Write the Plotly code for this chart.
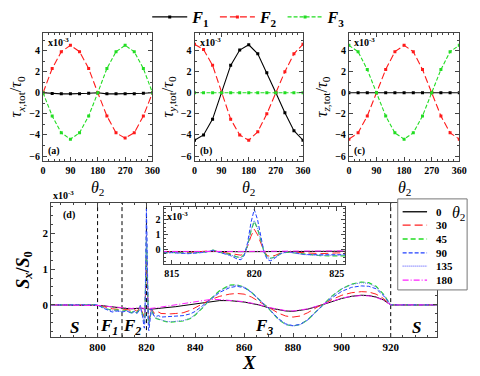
import plotly.graph_objects as go

# ---------------- data ----------------
theta = [0, 30, 60, 90, 120, 150, 180, 210, 240, 270, 300, 330, 360]

a_F1 = [0, -0.08, -0.1, -0.1, -0.1, -0.05, 0, -0.1, -0.1, -0.1, -0.1, -0.05, 0]
a_F2 = [0, 2.3, 3.9, 4.5, 3.9, 2.3, 0, -2.2, -3.8, -4.3, -3.8, -2.2, 0]
a_F3 = [0, -2.2, -3.8, -4.4, -3.8, -2.2, 0, 2.3, 3.9, 4.5, 3.9, 2.3, 0]

b_F1 = [-4.5, -4.0, -2.5, 0, 2.6, 4.05, 4.55, 3.7, 1.9, 0, -1.9, -3.6, -4.5]
b_F2 = [4.6, 4.1, 2.6, 0, -2.5, -4.0, -4.5, -3.7, -2.0, 0, 2.0, 3.7, 4.6]
b_F3 = [0, 0, 0, 0, 0, 0, 0, 0, 0, 0, 0, 0, 0]

c_F1 = [0, 0, 0, 0, 0, 0, 0, 0, 0, 0, 0, 0, 0]
c_F2 = [-4.4, -3.8, -2.2, 0, 2.2, 3.9, 4.5, 3.9, 2.2, 0, -2.2, -3.8, -4.4]
c_F3 = [4.5, 3.9, 2.2, 0, -2.2, -3.8, -4.4, -3.8, -2.2, 0, 2.2, 3.9, 4.5]

theta_ticks = [0, 90, 180, 270, 360]

X = [781, 800, 802, 804, 806,
     808, 810, 812, 814, 815,
     816, 817, 817.5, 818, 818.5,
     819, 819.2, 819.4, 819.6, 819.8,
     820, 820.2, 820.4, 820.6, 820.8,
     821, 821.3, 821.6, 822, 822.5,
     823, 824, 825, 826, 828,
     830, 832, 835, 838, 840,
     843, 846, 850, 854, 857,
     860, 863, 866, 870, 874,
     877, 880, 883, 886, 890,
     893, 896, 900, 904, 908,
     911, 914, 917, 920, 939]

S_0 = [0, 0, -0.02, -0.04, -0.06,
       -0.08, -0.1, -0.1, -0.11, -0.1,
       -0.11, -0.1, -0.09, -0.1, -0.11,
       -0.12, -0.12, -0.11, -0.1, -0.09,
       -0.08, -0.09, -0.1, -0.11, -0.12,
       -0.12, -0.12, -0.12, -0.12, -0.12,
       -0.11, -0.1, -0.1, -0.09, -0.08,
       -0.07, -0.05, -0.02, 0.01, 0.03,
       0.07, 0.1, 0.12, 0.12, 0.11,
       0.08, 0.04, 0.0, -0.08, -0.14,
       -0.17, -0.18, -0.16, -0.12, -0.04,
       0.03, 0.1, 0.18, 0.24, 0.27,
       0.26, 0.22, 0.14, 0, 0]

S_30 = [0, 0, -0.04, -0.08, -0.11,
        -0.12, -0.14, -0.13, -0.16, -0.13,
        -0.17, -0.12, -0.05, -0.15, -0.22,
        -0.33, -0.35, -0.2, 0.25, 0.9,
        1.37, 1.0, 0.4, -0.1, -0.38,
        -0.44, -0.35, -0.2, -0.12, -0.15,
        -0.22, -0.25, -0.2, -0.24, -0.25,
        -0.25, -0.24, -0.22, -0.15, -0.08,
        0.03, 0.14, 0.24, 0.3, 0.32,
        0.3, 0.22, 0.1, -0.08, -0.23,
        -0.31, -0.34, -0.31, -0.22, -0.06,
        0.05, 0.15, 0.27, 0.34, 0.37,
        0.36, 0.3, 0.18, 0, 0]

S_45 = [0, 0, -0.06, -0.12, -0.15,
        -0.14, -0.18, -0.15, -0.22, -0.16,
        -0.22, -0.14, -0.02, -0.18, -0.3,
        -0.48, -0.5, -0.3, 0.3, 1.25,
        1.9, 1.4, 0.55, -0.15, -0.5,
        -0.55, -0.45, -0.25, -0.15, -0.2,
        -0.3, -0.38, -0.4, -0.44, -0.47,
        -0.48, -0.47, -0.45, -0.38, -0.28,
        -0.08, 0.15, 0.4, 0.55, 0.56,
        0.5, 0.35, 0.15, -0.1, -0.4,
        -0.55, -0.59, -0.55, -0.42, -0.15,
        0.05, 0.25, 0.45, 0.58, 0.64,
        0.62, 0.52, 0.3, 0, 0]

S_90 = [0, 0, -0.08, -0.15, -0.2,
        -0.17, -0.2, -0.17, -0.24, -0.18,
        -0.25, -0.16, -0.02, -0.2, -0.35,
        -0.62, -0.65, -0.35, 0.5, 1.8,
        2.68, 2.0, 0.8, -0.2, -0.65,
        -0.72, -0.5, -0.25, -0.1, -0.2,
        -0.3, -0.32, -0.3, -0.34, -0.33,
        -0.34, -0.33, -0.3, -0.25, -0.18,
        -0.02, 0.14, 0.35, 0.48, 0.52,
        0.48, 0.35, 0.15, -0.1, -0.38,
        -0.53, -0.58, -0.54, -0.42, -0.15,
        0.04, 0.2, 0.38, 0.49, 0.53,
        0.52, 0.45, 0.26, 0, 0]

S_135 = [0, 0, -0.07, -0.13, -0.17,
         -0.15, -0.19, -0.16, -0.23, -0.17,
         -0.23, -0.15, -0.02, -0.19, -0.32,
         -0.5, -0.52, -0.3, 0.32, 1.3,
         1.95, 1.45, 0.58, -0.15, -0.52,
         -0.57, -0.46, -0.25, -0.14, -0.2,
         -0.31, -0.37, -0.39, -0.43, -0.46,
         -0.47, -0.46, -0.44, -0.37, -0.27,
         -0.07, 0.14, 0.38, 0.53, 0.55,
         0.5, 0.36, 0.16, -0.1, -0.4,
         -0.55, -0.59, -0.55, -0.42, -0.15,
         0.05, 0.25, 0.45, 0.57, 0.62,
         0.6, 0.5, 0.29, 0, 0]

S_180 = [0, 0, -0.02, -0.04, -0.05,
         -0.07, -0.09, -0.09, -0.1, -0.09,
         -0.1, -0.09, -0.08, -0.09, -0.1,
         -0.1, -0.1, -0.1, -0.09, -0.08,
         -0.07, -0.08, -0.09, -0.1, -0.1,
         -0.1, -0.1, -0.1, -0.1, -0.1,
         -0.09, -0.08, -0.07, -0.06, -0.04,
         -0.02, 0.0, 0.04, 0.07, 0.09,
         0.12, 0.15, 0.15, 0.13, 0.12,
         0.09, 0.05, 0.01, -0.07, -0.13,
         -0.16, -0.17, -0.15, -0.11, -0.03,
         0.04, 0.11, 0.19, 0.24, 0.26,
         0.25, 0.21, 0.13, 0, 0]

theta2_labels = ["0", "30", "45", "90", "135", "180"]
region_lines = [800, 810, 820, 920]
region_labels = ["S", "F<sub>1</sub>", "F<sub>2</sub>", "F<sub>3</sub>", "S"]
region_label_x = [790.5, 804.7, 814.2, 868, 930.5]

# ---------------- styling ----------------
W, H = 480, 376
SERIF = "Liberation Serif"
FRAME = "#444444"


def px(v):
    return v / W


def py(v):
    return 1 - v / H


fig = go.Figure()

top_sets = [(a_F1, a_F2, a_F3), (b_F1, b_F2, b_F3), (c_F1, c_F2, c_F3)]
top_styles = [("<b><i>F</i><sub>1</sub></b>", "black", "solid"),
              ("<b><i>F</i><sub>2</sub></b>", "#ff1a1a", "7px,3px"),
              ("<b><i>F</i><sub>3</sub></b>", "#22dd22", "4px,2px")]
for k, vals in enumerate(top_sets):
    xa = "x" if k == 0 else "x%d" % (k + 1)
    ya = "y" if k == 0 else "y%d" % (k + 1)
    for (name, color, dash), v in zip(top_styles, vals):
        fig.add_trace(go.Scatter(
            x=theta, y=v, mode="lines+markers", name=name,
            line=dict(color=color, width=1.1, dash=dash),
            marker=dict(size=3, color=color, symbol="square"),
            xaxis=xa, yaxis=ya, showlegend=(k == 0), legendgroup=name))

d_series = [S_0, S_30, S_45, S_90, S_135, S_180]
d_styles = [("black", "solid", 1.0),
            ("#ff2020", "8px,4px", 1.0),
            ("#22dd22", "5px,3px", 1.2),
            ("#2040ff", "4px,2px", 1.0),
            ("#6a6aff", "1px,1px", 1.0),
            ("#ff20ff", "6px,2px,1px,2px", 1.0)]
for xa, ya in (("x4", "y4"), ("x5", "y5")):
    for s, (c, dsh, w) in zip(d_series, d_styles):
        fig.add_trace(go.Scatter(x=X, y=s, mode="lines", showlegend=False,
                                 line=dict(color=c, dash=dsh, width=w),
                                 xaxis=xa, yaxis=ya))


def axis_common(size=10):
    return dict(showline=True, linecolor=FRAME, linewidth=1, mirror="allticks",
                ticks="inside", ticklen=4, tickcolor=FRAME, showgrid=False,
                zeroline=False,
                tickfont=dict(family=SERIF, size=size, color="black", weight="bold"))


top_x_dom = [(41, 153), (196, 307), (354, 467)]
ytitles = ["<i>τ</i><sub><i>x</i>,tot</sub>/<i>τ</i><sub>0</sub>",
           "<i>τ</i><sub><i>y</i>,tot</sub>/<i>τ</i><sub>0</sub>",
           "<i>τ</i><sub><i>z</i>,tot</sub>/<i>τ</i><sub>0</sub>"]
layout = {}
annotations = []
shapes = []
for k, (x0, x1) in enumerate(top_x_dom):
    sx = "" if k == 0 else str(k + 1)
    layout["xaxis" + sx] = dict(
        axis_common(10), domain=[px(x0), px(x1)], range=[0, 360],
        tickvals=theta_ticks, anchor="y" + sx,
        minor=dict(ticks="inside", ticklen=2, tickcolor=FRAME, dtick=18, tick0=0))
    layout["yaxis" + sx] = dict(
        axis_common(10), domain=[py(159), py(29)], range=[-6.5, 5.7],
        tickvals=[-6, -4, -2, 0, 2, 4], anchor="x" + sx,
        minor=dict(ticks="inside", ticklen=2, tickcolor=FRAME, dtick=1, tick0=0),
        title=dict(text=ytitles[k], standoff=3,
                   font=dict(family=SERIF, size=16, color="black")))
    annotations.append(dict(text="<i>θ</i><sub>2</sub>", xref="x%s domain" % sx,
                            yref="paper", x=0.5, y=py(186), xanchor="center",
                            yanchor="middle", showarrow=False,
                            font=dict(family=SERIF, size=16, color="black")))

layout["xaxis4"] = dict(
    axis_common(11), domain=[px(49.3), px(444.3)], range=[781, 939],
    tickvals=[800, 820, 840, 860, 880, 900, 920], anchor="y4",
    minor=dict(ticks="inside", ticklen=2, tickcolor=FRAME, dtick=5, tick0=800))
layout["yaxis4"] = dict(
    axis_common(11), domain=[py(336.7), py(201)], range=[-0.9, 2.85],
    tickvals=[0, 1, 2], anchor="x4",
    minor=dict(ticks="inside", ticklen=2, tickcolor=FRAME, dtick=0.25, tick0=0),
    title=dict(text="<b><i>S</i><sub><i>x</i></sub>/<i>S</i><sub>0</sub></b>", standoff=8,
               font=dict(family=SERIF, size=18, color="black")))
layout["xaxis5"] = dict(
    axis_common(10), domain=[px(164.3), px(350)], range=[814.5, 825.5],
    tickvals=[815, 820, 825], anchor="y5",
    minor=dict(ticks="inside", ticklen=2, tickcolor=FRAME, dtick=0.5, tick0=815))
layout["yaxis5"] = dict(
    axis_common(10), domain=[py(262.3), py(205)], range=[-0.9, 2.85],
    tickvals=[0, 1, 2], anchor="x5",
    minor=dict(ticks="inside", ticklen=2, tickcolor=FRAME, dtick=0.25, tick0=0))

annotations.append(dict(text="<b><i>X</i></b>", xref="x4 domain", yref="paper",
                        x=0.515, y=py(362), xanchor="center", yanchor="middle",
                        showarrow=False, font=dict(family=SERIF, size=19, color="black")))

lab_font = dict(family=SERIF, size=10, color="black", weight="bold")
for k, lab in enumerate(["(a)", "(b)", "(c)"]):
    sx = "" if k == 0 else str(k + 1)
    annotations.append(dict(text=lab, xref="x%s domain" % sx, yref="y%s domain" % sx,
                            x=0.03, y=0.02, xanchor="left", yanchor="bottom",
                            showarrow=False, font=lab_font))
    annotations.append(dict(text="x10<sup>-3</sup>", xref="x%s domain" % sx,
                            yref="y%s domain" % sx, x=0.03, y=0.99, xanchor="left",
                            yanchor="top", showarrow=False, font=lab_font))

annotations.append(dict(text="(d)", xref="x4 domain", yref="y4 domain", x=0.025, y=0.97,
                        xanchor="left", yanchor="top", showarrow=False, font=lab_font))
annotations.append(dict(text="x10<sup>-3</sup>", xref="paper", yref="paper",
                        x=px(49), y=py(201), xanchor="left", yanchor="bottom",
                        showarrow=False, font=lab_font))
annotations.append(dict(text="x10<sup>-3</sup>", xref="x5 domain", yref="y5 domain",
                        x=0.01, y=0.98, xanchor="left", yanchor="top",
                        showarrow=False, font=lab_font))

for xv, lab in zip(region_label_x, region_labels):
    annotations.append(dict(text="<b><i>%s</i></b>" % lab, xref="x4", yref="y4",
                            x=xv, y=-0.62, showarrow=False,
                            font=dict(family=SERIF, size=17, color="black")))

for xv in region_lines:
    shapes.append(dict(type="line", xref="x4", yref="y4 domain", x0=xv, x1=xv,
                       y0=0, y1=1, layer="below",
                       line=dict(color="black", width=1, dash="4px,3px")))
shapes.append(dict(type="line", xref="x5", yref="y5 domain", x0=820, x1=820,
                   y0=0, y1=1, layer="below",
                   line=dict(color="black", width=1, dash="4px,3px")))

# legend box for panel (d)
shapes.append(dict(type="rect", xref="paper", yref="paper",
                   x0=px(404), x1=px(475), y0=py(289), y1=py(197),
                   fillcolor="white", line=dict(color="#777777", width=1)))
leg_y = [210, 223.5, 237.5, 251.5, 265, 279]
for lab, yy, (c, dsh, w) in zip(theta2_labels, leg_y, d_styles):
    shapes.append(dict(type="line", xref="paper", yref="paper",
                       x0=px(409), x1=px(434), y0=py(yy), y1=py(yy),
                       line=dict(color=c, dash=dsh, width=w + 0.3)))
    annotations.append(dict(text=lab, xref="paper", yref="paper", x=px(441), y=py(yy),
                            xanchor="left", yanchor="middle", showarrow=False,
                            font=dict(family=SERIF, size=11, color="black", weight="bold")))
annotations.append(dict(text="<i>θ</i><sub>2</sub>", xref="paper", yref="paper",
                        x=px(466), y=py(212), xanchor="center", yanchor="middle",
                        showarrow=False, font=dict(family=SERIF, size=16, color="black")))

fig.update_layout(
    width=W, height=H, autosize=False,
    margin=dict(l=0, r=0, t=0, b=0),
    paper_bgcolor="white", plot_bgcolor="white",
    font=dict(family=SERIF, color="black"),
    showlegend=True,
    legend=dict(orientation="h", x=px(252), y=py(13), xanchor="center", yanchor="middle",
                font=dict(family=SERIF, size=16, color="black"),
                bgcolor="rgba(0,0,0,0)", itemwidth=35, tracegroupgap=0),
    annotations=annotations, shapes=shapes,
    **layout)

fig.write_html("out.html", config={"displayModeBar": False},
               post_script="document.body.style.margin='0px';document.body.style.overflow='hidden';")
